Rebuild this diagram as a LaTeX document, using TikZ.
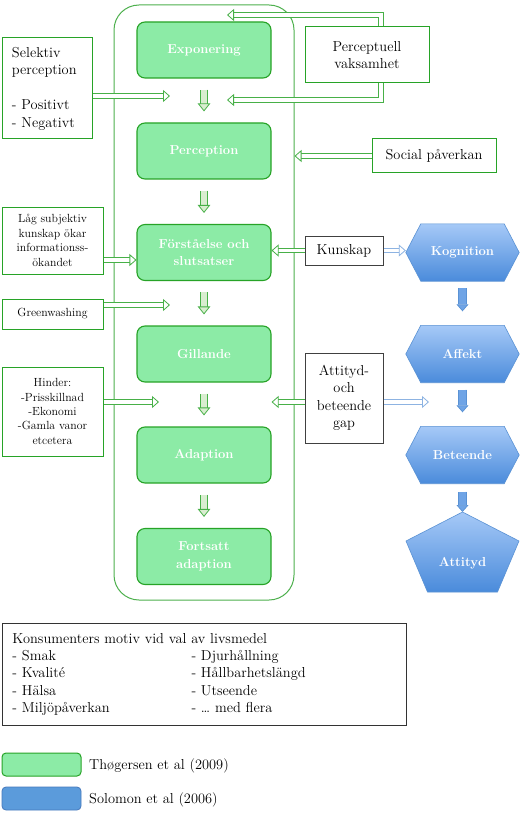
\documentclass[tikz,border=0pt]{standalone}
\usepackage{fontspec}
\usetikzlibrary{arrows.meta,backgrounds}
\definecolor{gfill}{HTML}{8CEBA6}
\definecolor{gline}{HTML}{27A327}
\definecolor{cline}{HTML}{4DB04D}
\definecolor{aline}{HTML}{47B047}
\definecolor{lgfill}{HTML}{D9EDD0}
\definecolor{btop}{HTML}{A6C9F7}
\definecolor{bbot}{HTML}{4A8BDB}
\definecolor{bline}{HTML}{5A92D4}
\definecolor{barrow}{HTML}{8DB3E2}
\definecolor{bmid}{HTML}{6FA4E6}
\definecolor{legblue}{HTML}{5B9BDB}
\definecolor{legblueline}{HTML}{4679BD}
\newcommand\myfs[2]{\fontsize{#1}{#2}\selectfont}
\begin{document}
\begin{tikzpicture}[x=1pt,y=-1pt,
  gbox/.style={rounded corners=8pt, fill=gfill, draw=gline, line width=1.1pt,
    text=white, font=\myfs{13}{17.5}\bfseries, minimum width=134pt,
    minimum height=56pt, align=center, inner sep=2pt},
  obox/.style={draw=gline, line width=1pt, fill=white, align=center, inner sep=2pt,
    font=\myfs{14.4}{17.5}},
  sbox/.style={obox, font=\myfs{11.8}{14.4}, minimum width=101pt},
  kbox/.style={draw=black!75, line width=1pt, fill=white, align=center, inner sep=2pt,
    font=\myfs{14.4}{17.5}, minimum width=78pt},
  bnode/.style={minimum width=113pt, minimum height=57pt, text=white,
    font=\myfs{13}{17.5}\bfseries, inner sep=0pt},
  bshape/.style={top color=btop, bottom color=bbot, draw=bline, line width=0.6pt},
  garr/.style={draw=aline, line width=0.8pt, double=white, double distance=3.6pt,
    -{Triangle[open, fill=white, line width=0.8pt, length=7pt, width=12pt]}},
  barr/.style={draw=barrow, line width=0.8pt, double=white, double distance=3.6pt,
    -{Triangle[open, fill=white, line width=0.8pt, length=7pt, width=12pt]}},
  gdown/.style={draw=aline, line width=0.8pt, double=lgfill, double distance=6.4pt,
    -{Triangle[fill=lgfill, line width=0.8pt, length=8pt, width=12.5pt]},
    shorten <=11pt, shorten >=11pt},
  bdown/.style={draw=bline, line width=0.7pt, double=bmid, double distance=7.6pt,
    -{Triangle[fill=bmid, line width=0.7pt, length=7pt, width=12pt]}}
]
\useasboundingbox (0,0) rectangle (523,813);

% container
\node[draw=cline, line width=1pt, rounded corners=25pt, minimum width=180pt,
  minimum height=595pt, inner sep=0pt] (cont) at (204,302.5) {};

% green process boxes
\node[gbox] (expo) at (204,50) {Exponering};
\node[gbox] (perc) at (204,151) {Perception};
\node[gbox] (fors) at (204,252.5) {Förståelse och\\slutsatser};
\node[gbox] (gil) at (204,354) {Gillande};
\node[gbox] (adap) at (204,455) {Adaption};
\node[gbox] (fort) at (204,556.5) {Fortsatt\\adaption};

% left boxes
\node[obox, align=left, minimum width=90pt, minimum height=101pt, text width=70pt,
  inner xsep=10pt]
  (sel) at (47,88.5) {Selektiv\\perception\\\mbox{}\\- Positivt\\- Negativt};
\node[sbox, minimum height=67pt] (lag) at (52.5,240.5)
  {Låg subjektiv\\kunskap ökar\\informationss-\\ökandet};
\node[sbox, minimum height=30pt] (gw) at (52.5,314) {Greenwashing};
\node[sbox, minimum height=89pt] (hin) at (52.5,411.5)
  {Hinder:\\-Prisskillnad\\-Ekonomi\\-Gamla vanor\\etcetera};

% right boxes
\node[obox, minimum width=124pt, minimum height=56pt] (pv) at (367,55)
  {Perceptuell\\vaksamhet};
\node[obox, minimum width=124pt, minimum height=34pt] (sp) at (434,156)
  {Social påverkan};
\node[kbox, minimum height=29pt] (kun) at (344,250.5) {Kunskap};
\node[kbox, minimum height=90pt] (gap) at (344,398)
  {Attityd-\\och\\beteende\\gap};

% blue nodes
\node[bnode] (kog) at (462.5,252.5) {Kognition};
\node[bnode] (aff) at (462.5,354) {Affekt};
\node[bnode] (beh) at (462.5,455) {Beteende};
\node[bnode, minimum height=20pt] (att) at (462.5,563) {Attityd};
\coordinate (atttop) at (462.5,512);

\begin{scope}[on background layer]
  \fill[white] (0,0) rectangle (523,813);
  \foreach \n in {kog,aff,beh}{
    \shade[bshape] (\n.west) -- ([xshift=15pt]\n.north west) -- ([xshift=-15pt]\n.north east)
      -- (\n.east) -- ([xshift=-15pt]\n.south east) -- ([xshift=15pt]\n.south west) -- cycle;
  }
  \shade[bshape] (atttop) -- (519,541) -- (497.5,592) -- (427.5,592) -- (406,541) -- cycle;
\end{scope}

% motiv box
\node[draw=black!80, line width=1pt, anchor=north west, minimum width=404pt,
  minimum height=102pt, inner xsep=10pt, inner ysep=0pt, text width=384pt, align=left,
  font=\myfs{14.4}{17.4}]
  (motiv) at (2,623) {%
  \begin{tabular}{@{}p{179pt}@{}l@{}}
  \multicolumn{2}{@{}l@{}}{Konsumenters motiv vid val av livsmedel}\\
  - Smak & - Djurhållning\\
  - Kvalité & - Hållbarhetslängd\\
  - Hälsa & - Utseende\\
  - Miljöpåverkan & - \ldots\ med flera
  \end{tabular}};

% legend
\node[fill=gfill, draw=gline, line width=1pt, rounded corners=4pt, minimum width=79pt,
  minimum height=23pt, inner sep=0pt] (lg1) at (41.5,764.5) {};
\node[anchor=west, inner sep=0pt, font=\myfs{14.4}{17}] (lt1) at (89,766) {Thøgersen et al (2009)};
\node[fill=legblue, draw=legblueline, line width=0.8pt, rounded corners=4pt, minimum width=79pt,
  minimum height=23pt, inner sep=0pt] (lg2) at (41.5,798.5) {};
\node[anchor=west, inner sep=0pt, font=\myfs{14.4}{17}] (lt2) at (89,800) {Solomon et al (2006)};

% connectors
\coordinate (c1) at (170,96);
\draw[garr] (sel.east |- c1) -- (c1);
\coordinate (c2) at (227,15);
\coordinate (c3) at (227,100);
\draw[garr] ([xshift=14pt]pv.north) |- (c2);
\draw[garr] ([xshift=14pt]pv.south) |- (c3);
\draw[garr] (sp.west) -- (sp.west -| cont.east);
\coordinate (c4) at (0,260);
\draw[garr] (lag.east |- c4) -- (fors.west |- c4);
\draw[garr] (kun.west) -- (kun.west -| fors.east);
\draw[barr] (kun.east) -- (kun.east -| kog.west);
\coordinate (c5) at (170,305);
\draw[garr] (gw.east |- c5) -- (c5);
\coordinate (c6) at (159,402);
\draw[garr] (hin.east |- c6) -- (c6);
\draw[garr] (gap.west |- c6) -- (c6 -| adap.east);
\coordinate (c8) at (429,402);
\draw[barr] (gap.east |- c8) -- (c8);

\draw[gdown] (expo.south) -- (perc.north);
\draw[gdown] (perc.south) -- (fors.north);
\draw[gdown] (fors.south) -- (gil.north);
\draw[gdown] (gil.south) -- (adap.north);
\draw[gdown] (adap.south) -- (fort.north);

\draw[bdown, shorten <=7pt, shorten >=14pt] (kog.south) -- (aff.north);
\draw[bdown, shorten <=7pt, shorten >=14pt] (aff.south) -- (beh.north);
\draw[bdown, shorten <=8pt] (beh.south) -- (atttop);
\end{tikzpicture}
\end{document}
